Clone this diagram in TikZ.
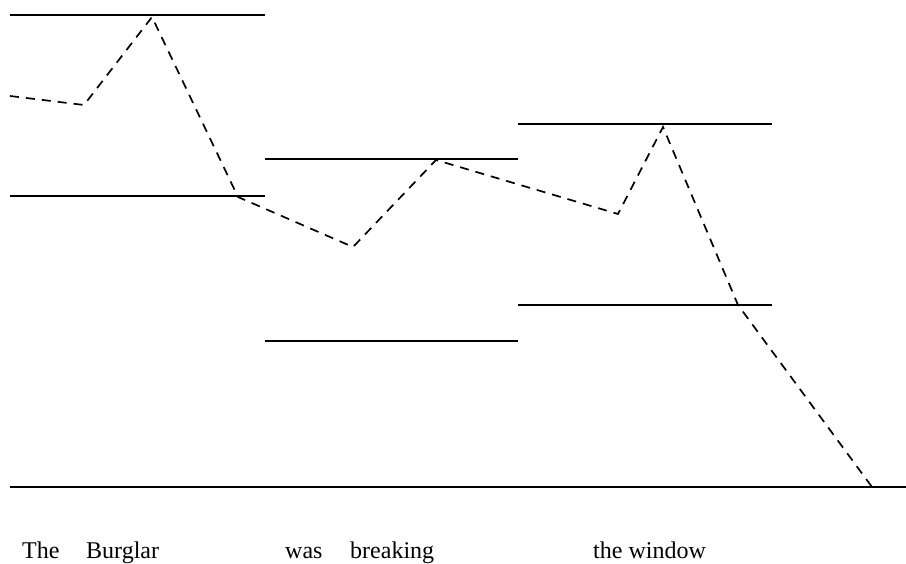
\documentclass[tikz,border=0pt]{standalone}
\usepackage{fontspec}
\setmainfont{Liberation Serif}
\usepackage{tikz}
\usetikzlibrary{positioning}
\tikzset{
  level/.style={line width=1.7pt, draw=black},
  contour/.style={line width=1.7pt, draw=black, dash pattern=on 9pt off 7pt},
  word/.style={anchor=base west, inner sep=0pt, font=\fontsize{24}{28}\selectfont}
}

\begin{document}
\begin{tikzpicture}[x=1pt,y=1pt]
\useasboundingbox (0,0) rectangle (906,563);
% pitch levels per word group
\draw[level] (10,548) -- (265,548);
\draw[level] (10,367) -- (265,367);
\draw[level] (265,404) -- (518,404);
\draw[level] (265,222) -- (518,222);
\draw[level] (518,439) -- (772,439);
\draw[level] (518,258) -- (772,258);
\draw[level] (10,76) -- (906,76);
% contour points
\coordinate (p0) at (10,467);
\coordinate (p1) at (84,458);
\coordinate (p2) at (152,546);
\coordinate (p3) at (238,366);
\coordinate (p4) at (353,316);
\coordinate (p5) at (436,403);
\coordinate (p6) at (618,349);
\coordinate (p7) at (663,436);
\coordinate (p8) at (738,258);
\coordinate (p9) at (872,76);
\draw[contour] (p0) -- (p1) -- (p2) -- (p3) -- (p4) -- (p5) -- (p6) -- (p7) -- (p8) -- (p9);
% words
\node[word] (the) at (22,5) {The};
\node[word] (burglar) at (86,5) {Burglar};
\node[word] (was) at (285,5) {was};
\node[word] (breaking) at (350,5) {breaking};
\node[word] (window) at (593,5) {the window};
\end{tikzpicture}
\end{document}
